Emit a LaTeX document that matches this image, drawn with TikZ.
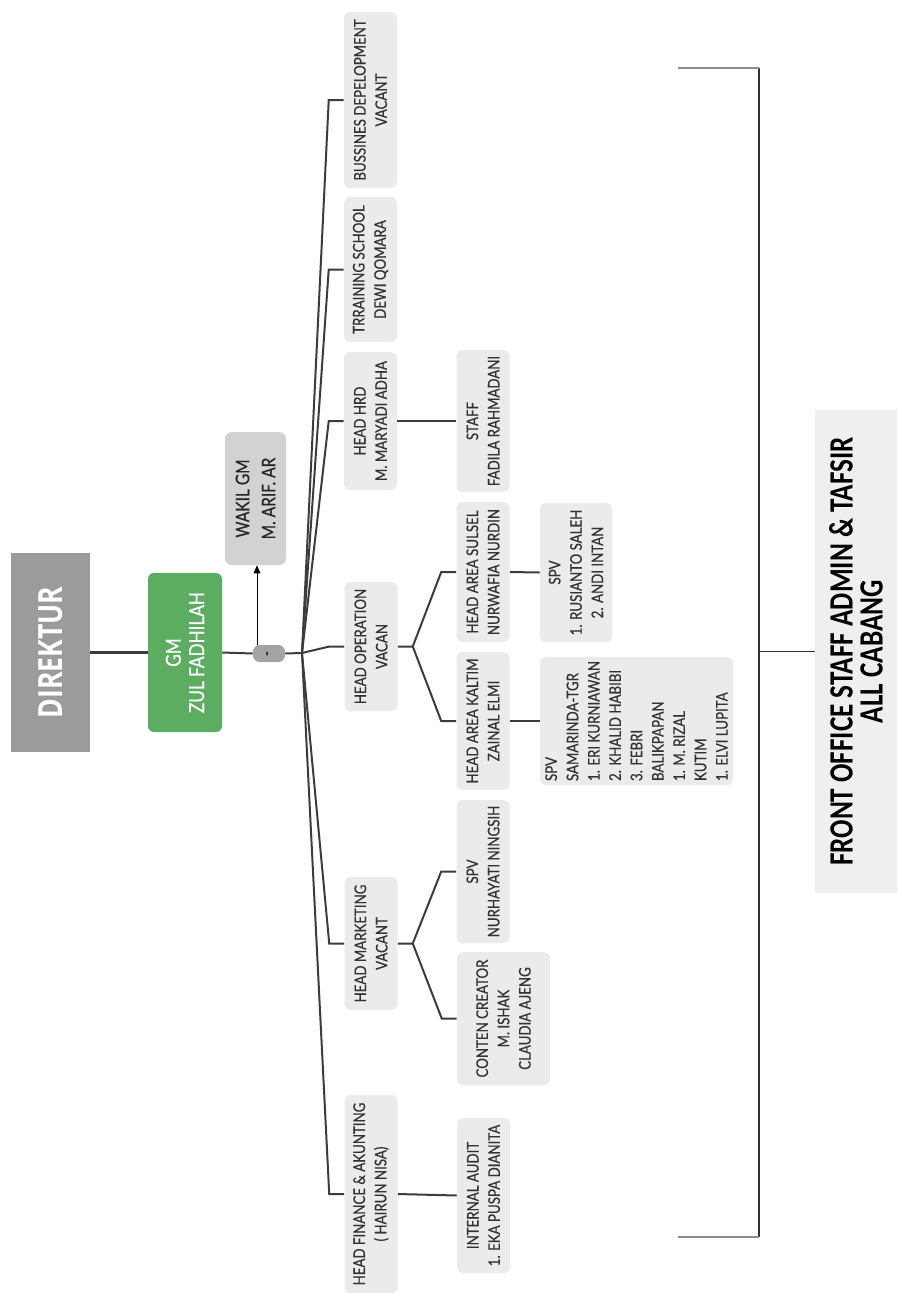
\documentclass[tikz,border=0pt]{standalone}
\usepackage{fontspec}
\setmainfont[FakeStretch=0.83, FakeBold=0.6]{Lato}
\newfontfamily\headfont[FakeStretch=0.8]{Open Sans}
\newfontfamily\notefont[FakeStretch=0.8]{Carlito}
\usetikzlibrary{arrows.meta, positioning, calc}
\definecolor{boxgray}{HTML}{EBEBEB}
\definecolor{wakilgray}{HTML}{D2D2D2}
\definecolor{pillgray}{HTML}{A4A4A4}
\definecolor{dirgray}{HTML}{9B9B9B}
\definecolor{gmgreen}{HTML}{5CAD62}
\definecolor{linegray}{HTML}{3C3C3C}
\definecolor{frontgray}{HTML}{EFEFEF}

\begin{document}
\begin{tikzpicture}[
    x=0.75pt, y=-0.75pt,
    >=Stealth,
    ubox/.style={rectangle, rotate=90, fill=boxgray, draw=none,
                 rounded corners=4pt, align=center, inner sep=2pt,
                 text=black!80, font=\fontsize{12}{16}\selectfont,
                 minimum height=39.75pt},
    dirbox/.style={rectangle, rotate=90, fill=dirgray, draw=none,
                   text=white, font=\headfont\bfseries\fontsize{25}{30}\selectfont,
                   minimum width=149.25pt, minimum height=59.25pt},
    gmbox/.style={rectangle, rotate=90, fill=gmgreen, draw=none,
                  rounded corners=4.5pt, align=center, text=white,
                  font=\fontsize{15.5}{17.5}\selectfont,
                  minimum width=119.25pt, minimum height=55.5pt},
    wbox/.style={rectangle, rotate=90, fill=wakilgray, draw=none,
                 rounded corners=5pt, align=center, text=black!85,
                 font=\fontsize{14}{19.5}\selectfont,
                 minimum width=99.75pt, minimum height=45.75pt},
    pill/.style={rectangle, rotate=90, fill=pillgray, draw=none,
                 rounded corners=5pt, inner sep=0pt, text=black!85,
                 font=\bfseries\fontsize{11}{11}\selectfont,
                 minimum width=12.75pt, minimum height=24pt},
    fbox/.style={rectangle, rotate=90, fill=frontgray, draw=none,
                 align=center, text=black,
                 font=\notefont\bfseries\fontsize{25.5}{22.5}\selectfont,
                 minimum width=362.25pt, minimum height=61.5pt},
    conn/.style={draw=linegray, line width=1.5pt},
    thk/.style={draw=linegray, line width=2.2pt},
    arr/.style={-{Triangle[length=6pt, width=5pt]}, draw=black, line width=0.7pt},
    brace/.style={draw=black!80, line width=1.1pt},
    rim/.style={draw=black!45, line width=1.4pt}
]
\useasboundingbox (0,0) rectangle (897,1293);

% top of the chart
\node[dirbox] (dir) at (50.5, 652.5) {DIREKTUR};
\node[gmbox] (gm) at (185, 652.5) {GM\\ZUL FADHILAH};
\node[pill] (mid) at (269, 653.5) {-};
\node[wbox] (wakil) at (255.5, 498.5) {WAKIL GM\\M. ARIF. AR};
\coordinate (jn) at (302, 653);

% first level
\node[ubox, minimum width=132pt] (bd) at (370.5, 100)
    {BUSSINES DEPELOPMENT\\VACANT};
\node[ubox, minimum width=108.75pt] (trs) at (370.5, 269.5)
    {TRRAINING SCHOOL\\DEWI QOMARA};
\node[ubox, minimum width=103.5pt] (hrd) at (370.5, 421)
    {HEAD HRD\\M. MARYADI ADHA};
\node[ubox, minimum width=96.75pt] (hop) at (371, 646.5)
    {HEAD OPERATION\\VACAN};
\node[ubox, minimum width=99.75pt] (hmk) at (371, 943.5)
    {HEAD MARKETING\\VACANT};
\node[ubox, minimum width=148.5pt] (hfa) at (371, 1194)
    {HEAD FINANCE \& AKUNTING\\( HAIRUN NISA)};

% second level
\node[ubox, minimum width=106.5pt] (staff) at (483, 421)
    {STAFF\\FADILA RAHMADANI};
\node[ubox, minimum width=105pt] (sulsel) at (483, 572)
    {HEAD AREA SULSEL\\NURWAFIA NURDIN};
\node[ubox, minimum width=103.5pt] (kaltim) at (483, 721)
    {HEAD AREA KALTIM\\ZAINAL ELMI};
\node[ubox, minimum width=107.25pt] (spvm) at (483, 871.5)
    {SPV\\NURHAYATI NINGSIH};
\node[ubox, minimum width=99.75pt, minimum height=69.75pt] (cc) at (503.5, 1018.5)
    {CONTEN CREATOR\\M. ISHAK\\CLAUDIA AJENG};
\node[ubox, minimum width=116.25pt] (ia) at (483.5, 1195.5)
    {INTERNAL AUDIT\\1. EKA PUSPA DIANITA};

% third level
\node[ubox, minimum width=104.25pt, minimum height=54pt] (spvs) at (576, 572.5)
    {SPV\\1. RUSIANTO SALEH\\2. ANDI INTAN};
\node[ubox, align=left, minimum width=96pt, minimum height=144.75pt] (spvk) at (636.5, 721)
    {SPV\\SAMARINDA-TGR\\1. ERI KURNIAWAN\\2. KHALID HABIBI\\3. FEBRI\\BALIKPAPAN\\1. M. RIZAL\\KUTIM\\1. ELVI LUPITA};

% side note
\node[fbox] (front) at (856, 651.5)
    {FRONT OFFICE STAFF ADMIN \& TAFSIR\\ALL CABANG};
\coordinate (brk) at ([xshift=-42pt]front.north);

% connectors
\draw[thk] (dir.south) -- (gm.north);
\draw[conn] (gm.south) -- (mid.north);
\draw[conn] (mid.south) -- (jn);
\draw[arr] ([xshift=-9pt]mid.east) -- ([xshift=-9pt]mid.east |- wakil.west);

\foreach \kid in {bd, trs, hrd, hop, hmk, hfa}
    \draw[conn] (jn) -- ([xshift=-11.25pt]\kid.north) -- (\kid.north);

\draw[conn] (hrd.south) -- (staff.north);
\draw[conn] (hop.south) -- ([xshift=11.25pt]hop.south)
    -- ([xshift=-11.25pt]sulsel.north) -- (sulsel.north);
\draw[conn] ([xshift=11.25pt]hop.south)
    -- ([xshift=-11.25pt]kaltim.north) -- (kaltim.north);
\draw[conn] (sulsel.south) -- (spvs.north);
\draw[conn] (kaltim.south) -- (spvk.north);
\draw[conn] (hmk.south) -- ([xshift=11.25pt]hmk.south)
    -- ([xshift=-11.25pt]spvm.north) -- (spvm.north);
\draw[conn] ([xshift=11.25pt]hmk.south)
    -- ([xshift=-11.25pt]cc.north) -- (cc.north);
\draw[conn] (hfa.south) -- (ia.north);

% bracket to the side note
\draw[brace] (759, 68) -- (759, 1237);
\draw[rim] (678, 68) -- (759, 68);
\draw[rim] (678, 1237) -- (759, 1237);
\draw[brace] (brk) -- (front.north);
\end{tikzpicture}
\end{document}
